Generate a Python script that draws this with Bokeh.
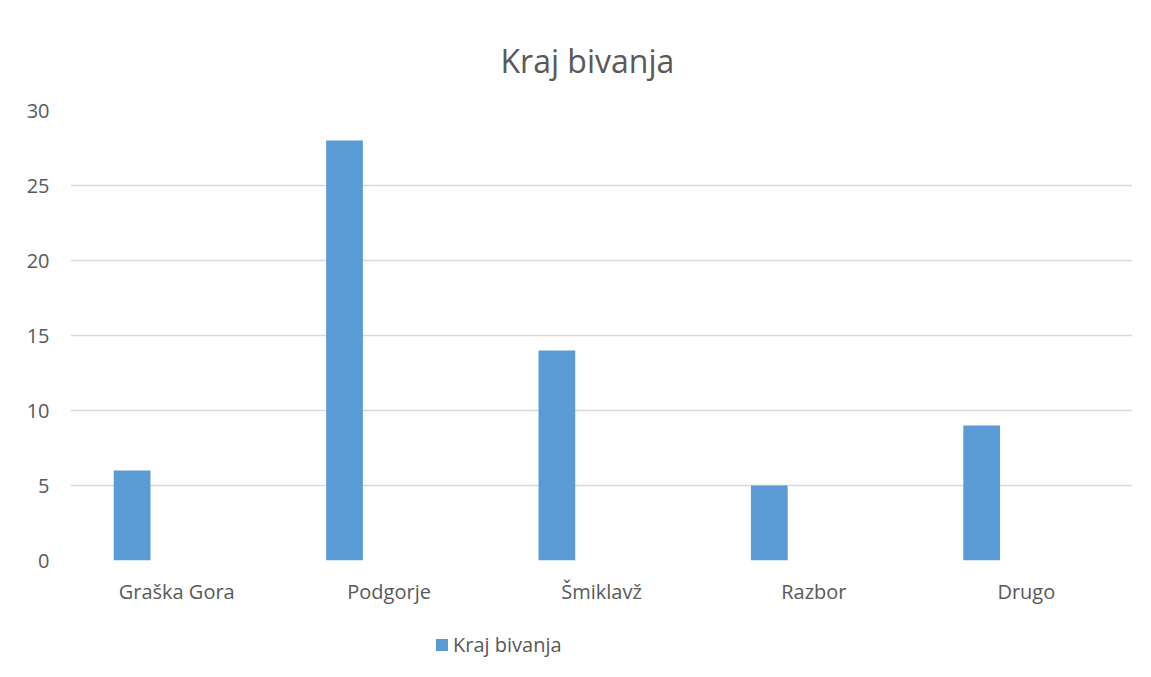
from bokeh.plotting import figure
from bokeh.models import FactorRange, Range1d, Legend, LegendItem, ColumnDataSource
from bokeh.layouts import column
from bokeh.transform import dodge
from bokeh.embed import file_html
from bokeh.resources import INLINE

categories = ["Graška Gora", "Podgorje", "Šmiklavž", "Razbor", "Drugo"]
values = [6, 28, 14, 5, 9]
series_name = "Kraj bivanja"
title_text = "Kraj bivanja"
y_ticks = [0, 5, 10, 15, 20, 25, 30]

FONT = "Open Sans"
GRAY = "#595959"
BAR = "#5b9bd5"

src = ColumnDataSource(dict(cat=categories, val=values))

p = figure(
    x_range=FactorRange(*categories),
    y_range=Range1d(0, 30),
    width=1143, height=610,
    output_backend="svg", toolbar_location=None,
    min_border_left=70, min_border_right=11, min_border_bottom=50, min_border_top=110,
)

p.title.text = title_text
p.title.align = "left"
p.title.text_font = FONT
p.title.text_font_style = "normal"
p.title.text_font_size = "32px"
p.title.text_color = GRAY
p.title.offset = 430
p.title.standoff = 58

r = p.vbar(x=dodge("cat", -0.21, range=p.x_range), top="val", width=0.173,
           source=src, fill_color=BAR, line_color=None)

p.outline_line_color = None
p.xgrid.grid_line_color = None
p.ygrid.grid_line_color = "#d9d9d9"
p.ygrid.grid_line_width = 1.5
p.yaxis.ticker = y_ticks

for ax in (p.xaxis[0], p.yaxis[0]):
    ax.axis_line_color = None
    ax.major_tick_line_color = None
    ax.minor_tick_line_color = None
    ax.major_label_text_font = FONT
    ax.major_label_text_font_size = "20px"
    ax.major_label_text_color = GRAY

p.yaxis.major_label_standoff = 15
p.xaxis.major_label_standoff = 11
p.x_range.range_padding = 0
p.x_range.group_padding = 0

# legend strip below the chart (key only; its bar has zero height)
p2 = figure(width=1143, height=59, output_backend="svg", toolbar_location=None,
            x_range=Range1d(0, 1), y_range=Range1d(0, 1),
            min_border=0, min_border_left=0, min_border_right=0,
            min_border_top=0, min_border_bottom=0)
p2.axis.visible = False
p2.grid.visible = False
p2.outline_line_color = None
r2 = p2.vbar(x=[0.5], top=[0], bottom=0, width=0.1, fill_color=BAR, line_color=None)
legend = Legend(items=[LegendItem(label=series_name, renderers=[r2])],
                location=(364, 11), orientation="horizontal",
                label_text_font=FONT, label_text_font_size="20px", label_text_color=GRAY,
                glyph_width=15, glyph_height=15, label_standoff=4,
                padding=0, margin=0, border_line_color=None, background_fill_alpha=0)
p2.add_layout(legend, "center")

layout = column(p, p2, spacing=0)
open("out.html", "w").write(file_html(layout, INLINE))
